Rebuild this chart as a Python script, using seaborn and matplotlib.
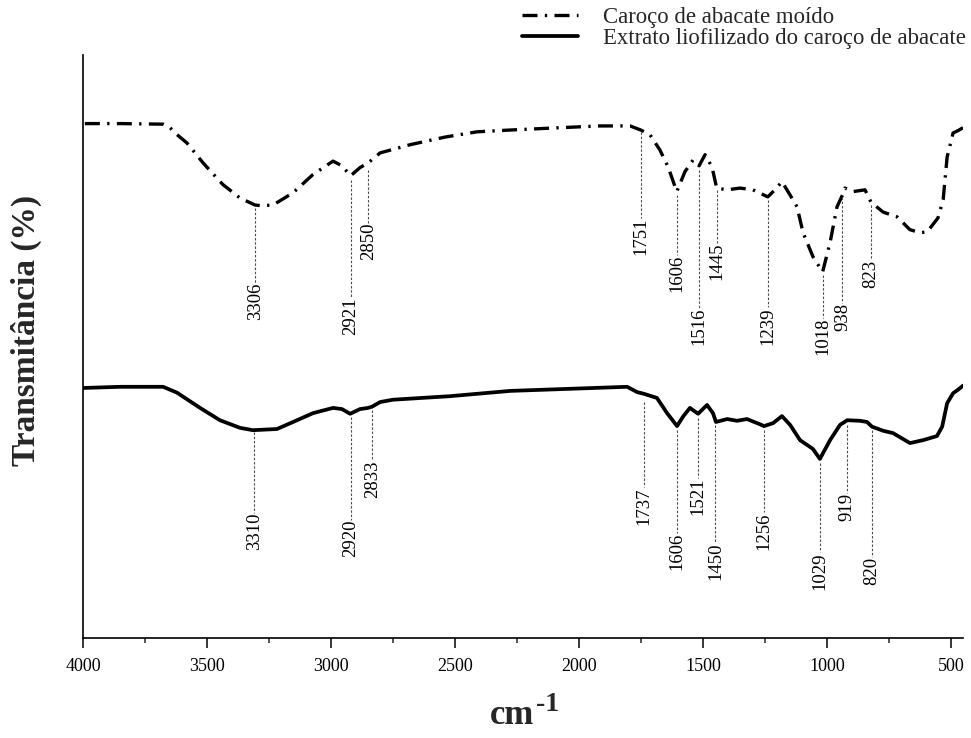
import matplotlib
matplotlib.use("Agg")
import matplotlib.pyplot as plt
import seaborn as sns
import pandas as pd

# FTIR spectra: wavenumber (cm-1) and transmittance (arbitrary %)
wn_moido = [4000, 3851, 3677, 3649, 3629, 3581, 3516, 3436, 3367, 3306, 3280, 3234, 3153,
            3073, 2992, 2956, 2921, 2883, 2850, 2802, 2681, 2540, 2411, 2278, 2077, 1915,
            1794, 1751, 1714, 1674, 1641, 1606, 1573, 1540, 1516, 1492, 1464, 1445, 1403,
            1351, 1299, 1239, 1210, 1182, 1149, 1121, 1097, 1057, 1018, 988, 960, 938, 928,
            895, 847, 823, 774, 718, 666, 625, 597, 553, 532, 516, 492, 472, 452]
t_moido = [86.9, 86.9, 86.8, 86.2, 85.3, 83.6, 80.2, 76.5, 74.2, 73.0, 72.9, 73.0, 75.1,
           78.2, 80.5, 79.7, 78.0, 79.4, 80.2, 81.9, 83.3, 84.6, 85.5, 85.8, 86.2, 86.5,
           86.5, 85.8, 85.0, 82.4, 79.5, 75.3, 78.7, 80.7, 79.7, 81.6, 79.5, 75.9, 75.6,
           75.9, 75.6, 74.4, 75.6, 77.0, 74.7, 72.7, 68.3, 64.2, 61.6, 66.6, 72.7, 74.7, 75.9,
           75.3, 75.6, 73.5, 71.8, 71.0, 68.8, 68.3, 68.4, 70.8, 73.9, 81.2, 85.3, 85.7, 86.2]

wn_extrato = [4000, 3851, 3677, 3621, 3528, 3448, 3367, 3315, 3218, 3153, 3073, 2992, 2956,
              2923, 2883, 2851, 2835, 2802, 2750, 2520, 2278, 2077, 1806, 1766, 1738, 1686,
              1645, 1605, 1581, 1553, 1520, 1484, 1460, 1448, 1403, 1363, 1323, 1282, 1254,
              1218, 1182, 1149, 1109, 1057, 1029, 988, 948, 919, 867, 839, 819, 774, 734, 666,
              613, 557, 536, 516, 492, 472, 452]
t_extrato = [41.8, 42.0, 42.0, 41.0, 38.4, 36.3, 35.0, 34.6, 34.8, 36.0, 37.5, 38.4, 38.2,
             37.4, 38.2, 38.4, 38.6, 39.4, 39.8, 40.4, 41.3, 41.6, 42.0, 41.1, 40.8, 40.1,
             37.5, 35.3, 36.9, 38.4, 37.4, 38.9, 37.5, 36.0, 36.5, 36.2, 36.5, 35.8, 35.3,
             35.8, 37.0, 35.5, 32.9, 31.4, 29.7, 32.9, 35.5, 36.3, 36.2, 36.0, 35.2, 34.5, 34.1,
             32.4, 32.9, 33.6, 35.2, 39.2, 40.9, 41.5, 42.2]

# Assigned bands
picos_moido = [3306, 2921, 2850, 1751, 1606, 1516, 1445, 1239, 1018, 938, 823]
picos_extrato = [3310, 2920, 2833, 1737, 1606, 1521, 1450, 1256, 1029, 919, 820]

# Leader-line layout: where each line leaves the curve and where its label starts
linha_moido = [72.5, 77.3, 79.0, 85.5, 74.7, 79.0, 75.6, 73.9, 61.1, 74.4, 73.0]
rotulo_moido = [59.7, 57.3, 70.0, 70.8, 64.5, 55.5, 66.6, 55.6, 53.8, 56.3, 63.7]
linha_extrato = [34.3, 36.9, 38.1, 39.4, 34.6, 36.7, 35.5, 34.6, 29.0, 35.5, 34.6]
rotulo_extrato = [20.5, 19.3, 29.5, 24.9, 17.1, 26.5, 15.4, 20.6, 13.8, 23.9, 13.0]

serie_moido = "Caroço de abacate moído"
serie_extrato = "Extrato liofilizado do caroço de abacate"

sns.set_theme(style="ticks")
plt.rcParams["font.family"] = ["Liberation Serif", "DejaVu Serif"]

fig = plt.figure(figsize=(9.71, 7.38), dpi=100)
ax = fig.add_axes([83 / 971, 100 / 738, 880 / 971, 583 / 738])

df_moido = pd.DataFrame({"wn": wn_moido, "T": t_moido})
df_extrato = pd.DataFrame({"wn": wn_extrato, "T": t_extrato})

sns.lineplot(data=df_moido, x="wn", y="T", ax=ax, color="black", lw=2.4,
             linestyle=(0, (4.5, 2.2, 0.7, 2.2)), label=serie_moido)
sns.lineplot(data=df_extrato, x="wn", y="T", ax=ax, color="black", lw=2.7,
             label=serie_extrato)


def anotar(picos, linha, rotulo):
    for p, y0, y1 in zip(picos, linha, rotulo):
        ax.plot([p, p], [y0, y1], color="0.3", lw=0.8, linestyle=(0, (2.2, 1.6)))
        ax.text(p, y1, str(p), rotation=90, ha="center", va="top", fontsize=13.5,
                color="black")


anotar(picos_moido, linha_moido, rotulo_moido)
anotar(picos_extrato, linha_extrato, rotulo_extrato)

ax.set_xlim(4000, 452)
ax.set_ylim(-0.85, 98.6)
ax.set_xticks([4000, 3500, 3000, 2500, 2000, 1500, 1000, 500])
ax.set_xticks([3750, 3250, 2750, 2250, 1750, 1250, 750], minor=True)
ax.set_yticks([])
ax.tick_params(axis="x", which="major", direction="out", length=7.2, width=1.1,
               labelsize=13, pad=7, colors="black")
ax.tick_params(axis="x", which="minor", direction="out", length=3.6, width=1.1)
for s in ("left", "bottom"):
    ax.spines[s].set_linewidth(1.2)
    ax.spines[s].set_color("black")
sns.despine(ax=ax)

# Axis titles: "cm" with a separately drawn "-1" exponent
ax.set_xlabel("cm", fontsize=25, fontweight="bold")
ax.xaxis.set_label_coords(0.4875, -0.105)
ax.xaxis.label.set_va("top")
ax.annotate("-1", xy=(1, 0), xycoords=ax.xaxis.label, xytext=(1.5, 15),
            textcoords="offset points", ha="left", va="baseline",
            fontsize=20, fontweight="bold")
ax.set_ylabel("Transmitância (%)", fontsize=24, fontweight="bold")
ax.yaxis.set_label_coords(-0.047, 0.527)

ax.get_legend().remove()
handles, labels = ax.get_legend_handles_labels()
fig.legend(handles, labels, loc="upper left", bbox_to_anchor=(522 / 971, 1 - 7 / 738),
           frameon=False, fontsize=16.4, handlelength=2.45, handletextpad=1.1,
           labelspacing=0.0, borderpad=0, borderaxespad=0)

fig.savefig("out.png", dpi=100)
